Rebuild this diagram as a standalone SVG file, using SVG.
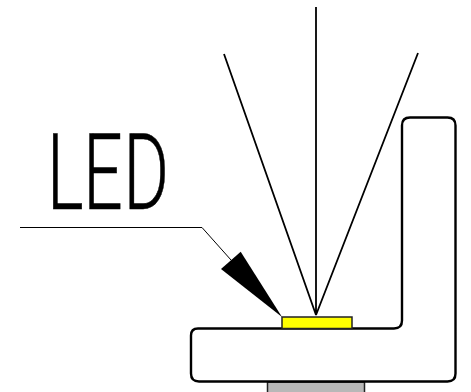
<svg xmlns="http://www.w3.org/2000/svg" width="471" height="392" viewBox="0 0 471 392">
<style>
.o{stroke:#000;stroke-linejoin:round}
.ray{fill:none;stroke:#000;stroke-width:1.8}
.lead{fill:none;stroke:#000;stroke-width:1}
.t{font-family:"Roboto","Liberation Sans",sans-serif;font-weight:300;font-size:105px;fill:#000;stroke:#000;stroke-width:0.6}
</style>
<rect width="471" height="392" fill="#fff"/>
<g id="base-plate"><rect x="267.500" y="382" width="97" height="12" fill="#b8b8b8" stroke="#222" stroke-width="1.500"/></g>
<g id="housing"><path d="M198 328.500H394Q402 328.500 402 320.500V125.500Q402 117.500 410 117.500H447.500Q455.500 117.500 455.500 125.500V373.500Q455.500 381.500 447.500 381.500H199Q191 381.500 191 373.500V335.500Q191 328.500 198 328.500Z" fill="#fff" class="o" stroke-width="2.400"/></g>
<g id="led"><rect x="282" y="317" width="70" height="11.500" fill="#ffff00" stroke="#222" stroke-width="1.500"/></g>
<g id="connectors">
<path class="ray" d="M224 54L316 315M316 7V315M418 53L316 315"/>
<path class="lead" d="M20 227.500H202L231 260"/>
<polygon points="282,317 240.700,251.700 221,269" fill="#000"/>
</g>
<g id="label"><text class="t" transform="translate(47 209) scale(0.66 1)" x="0 55 116">LED</text></g>
</svg>
